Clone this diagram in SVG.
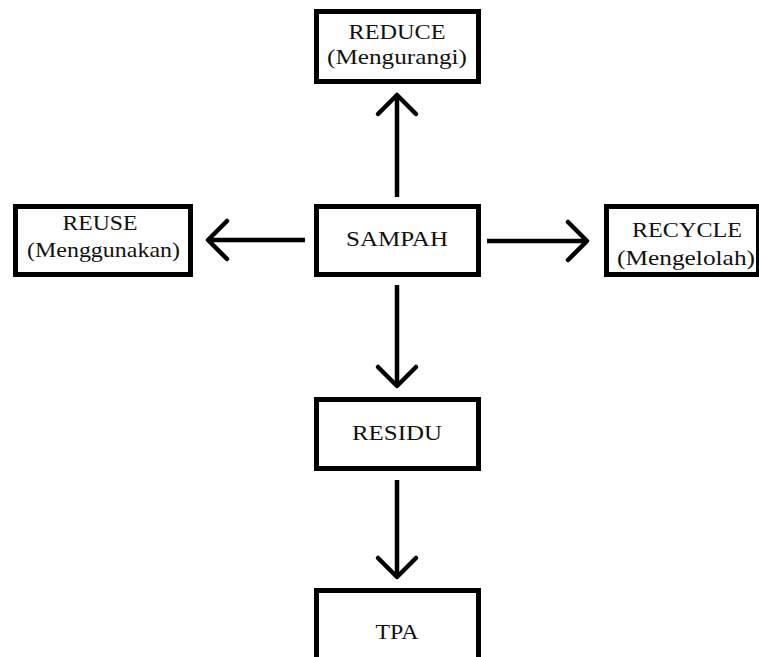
<svg xmlns="http://www.w3.org/2000/svg" width="759" height="657" viewBox="0 0 759 657">
  <style>
    .box { fill: #ffffff; stroke: #000000; stroke-width: 5; }
    .lbl { font-family: 'Liberation Serif', 'Times New Roman', serif; font-size: 22px; fill: #111111; text-anchor: middle; }
    .conn { stroke: #000000; stroke-width: 4.5; fill: none; marker-end: url(#head); }
  </style>
  <defs>
    <marker id="head" markerUnits="userSpaceOnUse" viewBox="-24 -24 28 48" refX="0" refY="0" markerWidth="28" markerHeight="48" orient="auto">
      <path d="M -19 -19 L 0 0 L -19 19" fill="none" stroke="#000000" stroke-width="4.5" stroke-linecap="round" stroke-linejoin="round"/>
    </marker>
  </defs>
  <rect x="0" y="0" width="759" height="657" fill="#ffffff"/>

  <g id="connectors">
    <line class="conn" x1="397" y1="197" x2="397" y2="95"/>
    <line class="conn" x1="305" y1="240" x2="208" y2="240"/>
    <line class="conn" x1="487" y1="241" x2="587" y2="241"/>
    <line class="conn" x1="397" y1="285" x2="397" y2="386"/>
    <line class="conn" x1="397" y1="480" x2="397" y2="577"/>
  </g>

  <g id="reduce">
    <rect class="box" x="316.5" y="11.5" width="162" height="70"/>
    <text class="lbl" x="397" y="39" textLength="97" lengthAdjust="spacingAndGlyphs">REDUCE</text>
    <text class="lbl" x="397" y="64" textLength="140" lengthAdjust="spacingAndGlyphs">(Mengurangi)</text>
  </g>

  <g id="sampah">
    <rect class="box" x="316.5" y="206.5" width="162" height="68"/>
    <text class="lbl" x="397" y="246" textLength="102" lengthAdjust="spacingAndGlyphs">SAMPAH</text>
  </g>

  <g id="reuse">
    <rect class="box" x="15.5" y="206.5" width="175" height="68"/>
    <text class="lbl" x="100" y="230" textLength="75" lengthAdjust="spacingAndGlyphs">REUSE</text>
    <text class="lbl" x="103.5" y="257" textLength="153" lengthAdjust="spacingAndGlyphs">(Menggunakan)</text>
  </g>

  <g id="recycle">
    <rect class="box" x="606.5" y="206.5" width="152" height="68"/>
    <text class="lbl" x="687" y="237" textLength="110" lengthAdjust="spacingAndGlyphs">RECYCLE</text>
    <text class="lbl" x="686" y="265" textLength="138" lengthAdjust="spacingAndGlyphs">(Mengelolah)</text>
  </g>

  <g id="residu">
    <rect class="box" x="316.5" y="399.5" width="162" height="69"/>
    <text class="lbl" x="397" y="440" textLength="90" lengthAdjust="spacingAndGlyphs">RESIDU</text>
  </g>

  <g id="tpa">
    <rect class="box" x="316.5" y="590.5" width="162" height="80"/>
    <text class="lbl" x="397" y="639" textLength="43" lengthAdjust="spacingAndGlyphs">TPA</text>
  </g>
</svg>
